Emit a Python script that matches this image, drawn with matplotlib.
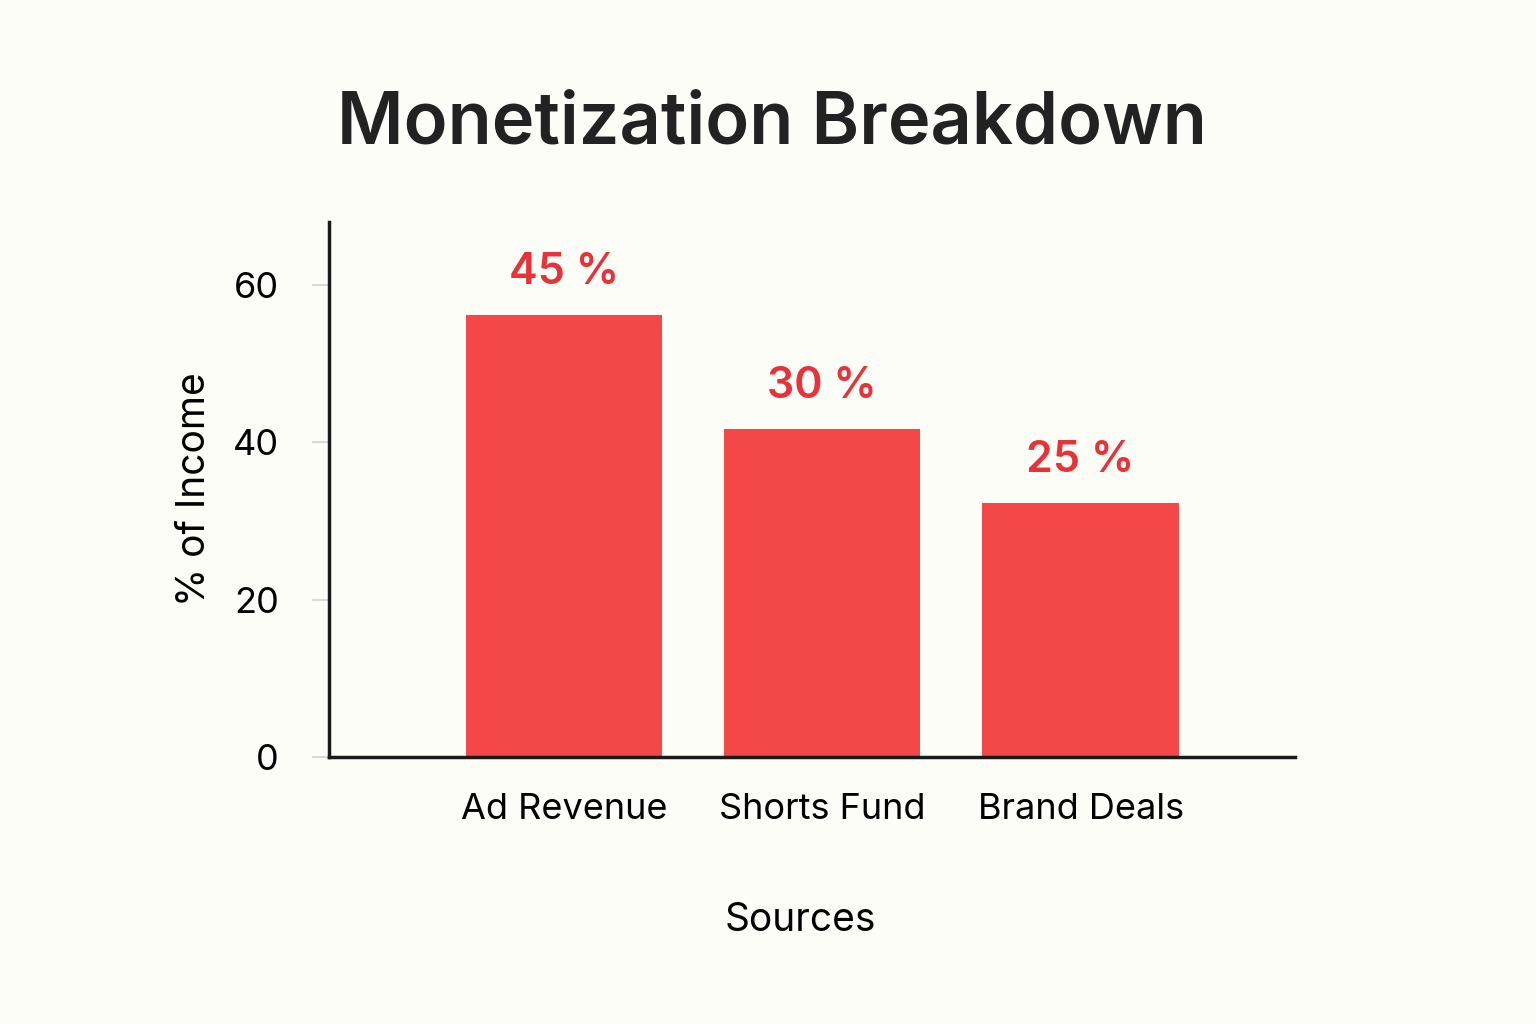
import matplotlib
matplotlib.use("Agg")
import matplotlib.pyplot as plt

categories = ["Ad Revenue", "Shorts Fund", "Brand Deals"]
bar_heights = [56.2, 41.7, 32.3]
labels = ["45 %", "30 %", "25 %"]
yticks = [0, 20, 40, 60]

bg = "#fdfdf8"
fig = plt.figure(figsize=(15.36, 10.24), dpi=100, facecolor=bg)
ax = fig.add_axes([329/1536, 1-757/1024, (1295-329)/1536, (757-222)/1024], facecolor=bg)
x = list(range(len(categories)))
ax.bar(x, bar_heights, width=0.76, color="#f44848")
for xi, h, l in zip(x, bar_heights, labels):
    ax.text(xi, h + 2.8, l, ha="center", va="bottom", fontsize=31, color="#e8323a",
            family="Inter", fontweight="semibold")
ax.set_xlim(-0.91, 2.83)
ax.set_ylim(0, 68)
ax.set_yticks(yticks)
ax.set_yticklabels([str(t) for t in yticks], fontsize=26, family="Inter")
ax.set_xticks(x)
ax.set_xticklabels(categories, fontsize=26, family="Inter")
ax.tick_params(axis="y", length=12, color="#d8d8d8", width=1.5, pad=24)
ax.tick_params(axis="x", length=0, pad=26)
for s in ["top", "right"]:
    ax.spines[s].set_visible(False)
for s in ["left", "bottom"]:
    ax.spines[s].set_linewidth(2.5)
    ax.spines[s].set_color("#1a1a1a")
ax.set_xlabel("Sources", fontsize=28, family="Inter", labelpad=60)
ax.xaxis.set_label_coords((800-329)/(1295-329), -(902-757)/(757-222))
ax.set_ylabel("% of Income", fontsize=28, family="Inter")
ax.yaxis.set_label_coords(-(329-213)/(1295-329), 0.5)
fig.text(772/1536, 1-125/1024, "Monetization Breakdown", ha="center", va="center",
         fontsize=52, family="Inter", fontweight="semibold", color="#222222")
fig.savefig("out.png", dpi=100, facecolor=bg)
